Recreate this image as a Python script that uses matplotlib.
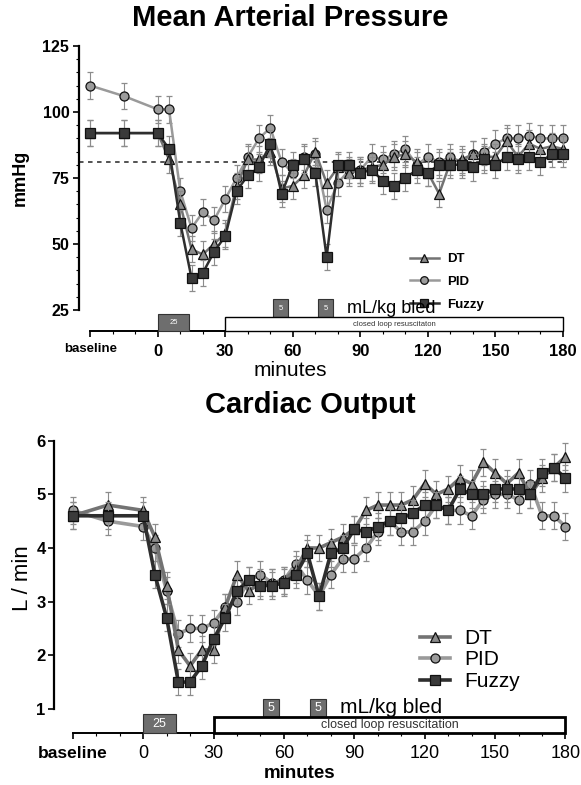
import matplotlib.pyplot as plt
from matplotlib.patches import Rectangle
from matplotlib.lines import Line2D
from matplotlib.ticker import MultipleLocator, FixedLocator

plt.rcParams['font.family'] = ['Liberation Sans', 'DejaVu Sans']

# sample times (min), baseline samples at -30 and -15
minutes = [-30, -15, 0, 5, 10, 15, 20, 25, 30, 35, 40, 45, 50, 55, 60, 65, 70, 75, 80,
           85, 90, 95, 100, 105, 110, 115, 120, 125, 130, 135, 140, 145, 150, 155, 160,
           165, 170, 175, 180]

# mean arterial pressure (mmHg)
map_dt = [92, 92, 92, 82, 65, 48, 46, 50, 54, 72, 82, 82, 85, 71, 72, 76, 85, 73, 79,
          77, 78, 79, 80, 83, 84, 81, 77, 69, 81, 82, 84, 83, 83, 89, 83, 88, 86, 87, 86]
map_pid = [110, 106, 101, 101, 70, 56, 62, 59, 67, 75, 83, 90, 94, 81, 77, 83, 84, 63, 73,
           78, 78, 83, 82, 84, 86, 80, 83, 81, 83, 81, 84, 85, 88, 90, 90, 91, 90, 90, 90]
map_fuzzy = [92, 92, 92, 86, 58, 37, 39, 47, 53, 70, 76, 79, 88, 69, 80, 82, 77, 45, 80,
             80, 77, 78, 74, 72, 75, 78, 77, 80, 80, 80, 79, 82, 80, 83, 82, 83, 81, 84, 84]
map_err = 5
map_target = 81

# cardiac output (L/min)
co_dt = [4.6, 4.8, 4.7, 4.2, 3.3, 2.1, 1.8, 2.1, 2.1, 2.9, 3.5, 3.2, 3.35, 3.35, 3.4, 3.6,
         4.0, 4.0, 4.1, 4.2, 4.35, 4.7, 4.8, 4.8, 4.8, 4.9, 5.2, 5.0, 5.1, 5.3, 5.2, 5.6,
         5.4, 5.2, 5.4, 5.0, 5.3, 5.5, 5.7]
co_pid = [4.7, 4.5, 4.4, 4.0, 3.2, 2.4, 2.5, 2.5, 2.6, 2.9, 3.0, 3.4, 3.5, 3.35, 3.4, 3.7,
          3.4, 3.1, 3.5, 3.8, 3.8, 4.0, 4.3, 4.5, 4.3, 4.3, 4.5, 4.8, 4.7, 4.7, 4.6, 4.9,
          5.0, 5.0, 4.9, 5.2, 4.6, 4.6, 4.4]
co_fuzzy = [4.6, 4.6, 4.6, 3.5, 2.7, 1.5, 1.5, 1.8, 2.3, 2.7, 3.2, 3.4, 3.3, 3.3, 3.35, 3.5,
            3.9, 3.1, 3.9, 4.0, 4.35, 4.3, 4.4, 4.5, 4.55, 4.65, 4.8, 4.8, 4.7, 5.1, 5.0,
            5.0, 5.1, 5.1, 5.1, 5.0, 5.4, 5.5, 5.3]
co_err = 0.25

# protocol: bleeds (start, end, mL/kg) and closed loop resuscitation window
bleeds = [(0, 14, '25'), (51, 58, '5'), (71, 78, '5')]
closed_loop = (30, 180)

xtick_pos = [-30, 0, 30, 60, 90, 120, 150, 180]
xtick_lab = ['baseline', '0', '30', '60', '90', '120', '150', '180']
map_minor_y = [30, 35, 40, 45, 55, 60, 65, 70, 80, 85, 90, 95, 105, 110, 115, 120]

names = ['DT', 'PID', 'Fuzzy']
markers = {'DT': '^', 'PID': 'o', 'Fuzzy': 's'}
line_col = {'DT': '#737373', 'PID': '#9a9a9a', 'Fuzzy': '#2e2e2e'}
face_col = {'DT': '#8a8a8a', 'PID': '#9c9c9c', 'Fuzzy': '#3a3a3a'}
zord = {'PID': 3, 'DT': 4, 'Fuzzy': 5}


def plot_series(ax, data, err, ms, lw):
    for name in ['PID', 'DT', 'Fuzzy']:
        ax.errorbar(minutes, data[name], yerr=err, color=line_col[name], lw=lw,
                    marker=markers[name], ms=ms, mfc=face_col[name], mec='#111111', mew=0.9,
                    ecolor='#8c8c8c', elinewidth=0.8, capsize=2, capthick=0.8,
                    zorder=zord[name], clip_on=False)


def legend_handles(ms, lw):
    return [Line2D([], [], color=line_col[n], lw=lw, marker=markers[n], ms=ms,
                   mfc=face_col[n], mec='#111111', mew=0.9) for n in names]


def protocol(ax, loop_label, y0, h_big, h_loop, h_small, fs_num, fs_loop, fs_bled, loop_lw, bled_y):
    for (a, b, lab) in bleeds:
        if lab == '25':
            ax.add_patch(Rectangle((a, y0), b - a, h_big, fc='#6e6e6e', ec='#333333',
                                   lw=0.8, clip_on=False, zorder=6))
            ax.text((a + b) / 2, y0 + h_big / 2, lab, color='white', fontsize=fs_num,
                    ha='center', va='center', zorder=7)
        else:
            ax.add_patch(Rectangle((a, y0 + h_loop), b - a, h_small, fc='#6e6e6e',
                                   ec='#333333', lw=0.8, clip_on=False, zorder=6))
            ax.text((a + b) / 2, y0 + h_loop + h_small / 2, lab, color='white',
                    fontsize=fs_num, ha='center', va='center', zorder=7)
    ax.add_patch(Rectangle((closed_loop[0], y0), closed_loop[1] - closed_loop[0], h_loop,
                           fc='white', ec='black', lw=loop_lw, clip_on=False, zorder=6))
    ax.text(sum(closed_loop) / 2, y0 + h_loop / 2, loop_label, fontsize=fs_loop,
            ha='center', va='center', color='#333333', zorder=7)
    ax.text(bleeds[2][1] + 6, bled_y, 'mL/kg bled', fontsize=fs_bled, ha='left',
            va='baseline', zorder=7)


fig = plt.figure(figsize=(5.81, 7.85), dpi=100)

# ---------------- Mean arterial pressure ----------------
ax1 = fig.add_axes([79 / 581, 1 - 331 / 785, (567 - 79) / 581, (331 - 46) / 785])
ax1.set_xlim(-35, 181.8)
ax1.set_ylim(17, 125)
ax1.axhline(map_target, color='#444444', lw=1.3, ls=(0, (2.5, 2.5)), zorder=1)
plot_series(ax1, {'DT': map_dt, 'PID': map_pid, 'Fuzzy': map_fuzzy}, map_err, 6.5, 1.8)

# ---------------- Cardiac output ----------------
ax2 = fig.add_axes([54 / 581, 1 - 733 / 785, (569 - 54) / 581, (733 - 440.7) / 785])
ax2.set_xlim(-38, 181.5)
ax2.set_ylim(0.55, 6.0)
plot_series(ax2, {'DT': co_dt, 'PID': co_pid, 'Fuzzy': co_fuzzy}, co_err, 6.5, 2.6)

for ax in (ax1, ax2):
    ax.spines['top'].set_visible(False)
    ax.spines['right'].set_visible(False)
    ax.spines['bottom'].set_bounds(-30, 180)
    ax.set_xticks(xtick_pos)
    ax.xaxis.set_minor_locator(MultipleLocator(10))

# top axis styling
ax1.spines['left'].set_bounds(25, 125)
ax1.spines['left'].set_linewidth(1.6)
ax1.spines['bottom'].set_linewidth(1.4)
ax1.set_yticks([25, 50, 75, 100, 125])
ax1.yaxis.set_minor_locator(FixedLocator(map_minor_y))
ax1.set_xticklabels(xtick_lab, fontsize=12, fontweight='bold')
ax1.get_xticklabels()[0].set_fontsize(9.5)
for lab in ax1.get_yticklabels():
    lab.set_fontsize(11.5)
    lab.set_fontweight('bold')
ax1.tick_params(axis='both', which='major', length=4, width=1.2, pad=3)
ax1.tick_params(axis='both', which='minor', length=2, width=0.8)
ax1.tick_params(axis='x', which='both', pad=5)
protocol(ax1, 'closed loop resuscitaton', 17, 6.4, 5.3, 6.7, 5.5, 5.5, 13, 1.0, 24.0)
ax1.legend(legend_handles(5.5, 1.8), names, loc='center left', bbox_to_anchor=(0.678, 0.172),
           frameon=False, prop={'weight': 'bold', 'size': 9.5}, handlelength=2.2,
           labelspacing=0.8, handletextpad=0.6, borderpad=0, borderaxespad=0)

# bottom axis styling
ax2.spines['left'].set_bounds(1, 6)
ax2.spines['left'].set_linewidth(1.6)
ax2.spines['bottom'].set_linewidth(1.4)
ax2.set_yticks([1, 2, 3, 4, 5, 6])
ax2.set_xticklabels(xtick_lab, fontsize=13)
ax2.get_xticklabels()[0].set_fontweight('bold')
ax2.get_xticklabels()[0].set_fontsize(12.5)
for lab in ax2.get_yticklabels():
    lab.set_fontsize(12)
    lab.set_fontweight('bold')
ax2.tick_params(axis='both', which='major', length=4, width=1.2, pad=2)
ax2.tick_params(axis='both', which='minor', length=2, width=0.8)
ax2.tick_params(axis='x', which='both', pad=5)
protocol(ax2, 'closed loop resuscitation', 0.55, 0.35, 0.30, 0.34, 9, 9, 15, 2.0, 0.93)
ax2.legend(legend_handles(6.5, 2.6), names, loc='center left', bbox_to_anchor=(0.71, 0.25),
           frameon=False, prop={'size': 15}, handlelength=1.45,
           labelspacing=0.12, handletextpad=0.7, borderpad=0, borderaxespad=0)

# titles and axis labels
fig.text(0.5, 1 - 18 / 785, 'Mean Arterial Pressure', fontsize=21, fontweight='bold',
         ha='center', va='center')
fig.text(310 / 581, 1 - 405 / 785, 'Cardiac Output', fontsize=21, fontweight='bold',
         ha='center', va='center')
fig.text(20 / 581, 1 - 178 / 785, 'mmHg', fontsize=13, fontweight='bold', rotation=90,
         ha='center', va='center')
fig.text(22 / 581, 1 - 578 / 785, 'L / min', fontsize=16, rotation=90,
         ha='center', va='center')
fig.text(290 / 581, 1 - 370 / 785, 'minutes', fontsize=15, ha='center', va='center')
fig.text(300 / 581, 1 - 773 / 785, 'minutes', fontsize=13.5, fontweight='bold',
         ha='center', va='center')

fig.savefig('out.png', dpi=100)
